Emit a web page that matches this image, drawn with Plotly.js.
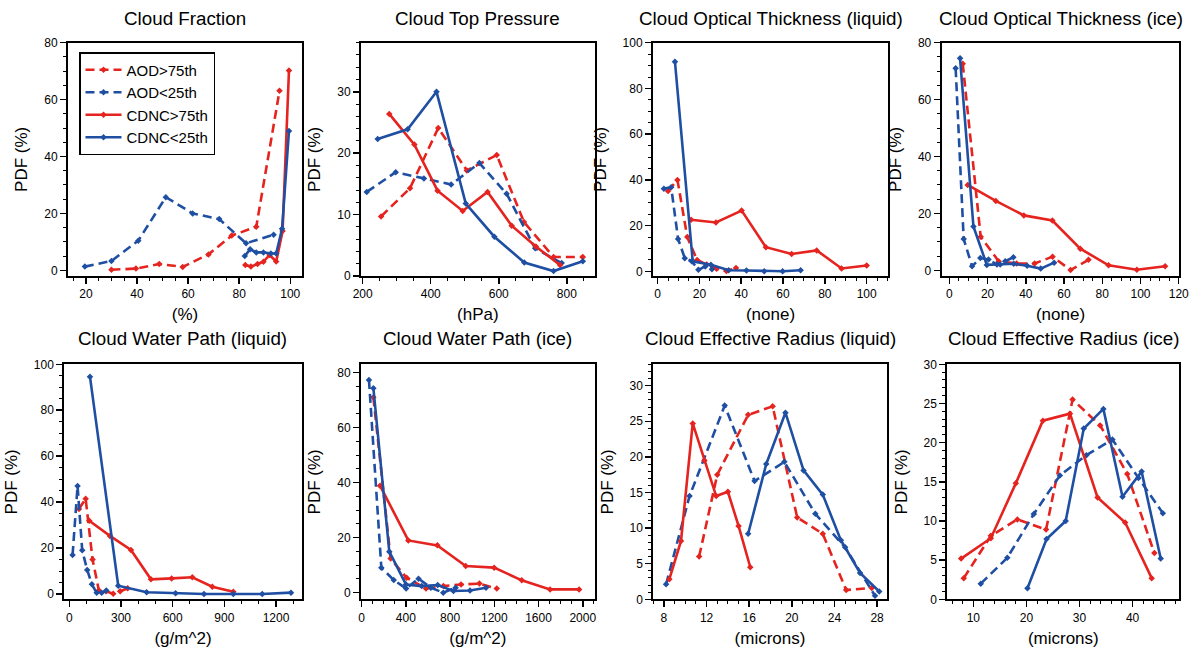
<!DOCTYPE html>
<html>
<head>
<meta charset="utf-8">
<script src="https://cdn.plot.ly/plotly-3.0.1.min.js"></script>
<style>html,body{margin:0;padding:0;background:#fff;}#chart{width:1192px;height:653px;}</style>
</head>
<body>
<div id="chart"></div>
<script>
// ---------------- DATA ----------------
const seriesNames = ['AOD>75th', 'AOD<25th', 'CDNC>75th', 'CDNC<25th'];
const panelTitles = ['Cloud Fraction', 'Cloud Top Pressure', 'Cloud Optical Thickness (liquid)', 'Cloud Optical Thickness (ice)',
                     'Cloud Water Path (liquid)', 'Cloud Water Path (ice)', 'Cloud Effective Radius (liquid)', 'Cloud Effective Radius (ice)'];
const xUnits = ['(%)', '(hPa)', '(none)', '(none)', '(g/m^2)', '(g/m^2)', '(microns)', '(microns)'];
const yLabel = 'PDF (%)';

// Cloud Fraction
const cf_aodHi_x = [30, 39.6, 48.7, 57.9, 68, 77.1, 86.7, 95.8];
const cf_aodHi_y = [0.2, 0.6, 2.2, 1.2, 5.6, 12.2, 15.3, 63.1];
const cf_aodLo_x = [19.6, 30, 40.5, 51.3, 61.8, 72.2, 82.7, 93.5];
const cf_aodLo_y = [1.3, 3.3, 10.4, 25.7, 20, 18, 9.5, 12.5];
const cf_cdncHi_x = [82.4, 84.6, 87.2, 89.5, 91.9, 94.5, 97, 99.5];
const cf_cdncHi_y = [1.9, 1.3, 2.2, 3.0, 5.4, 3.1, 13.8, 70.2];
const cf_cdncLo_x = [82.2, 84.3, 86.7, 89.5, 92.4, 94.5, 96.8, 99.5];
const cf_cdncLo_y = [5.0, 7.4, 6.3, 6.3, 5.9, 5.9, 14.6, 49];

// Cloud Top Pressure
const ctp_aodHi_x = [254, 339, 422, 506, 594, 674, 761, 847];
const ctp_aodHi_y = [9.7, 14.3, 24.1, 17.2, 19.7, 8.8, 3.1, 3.1];
const ctp_aodLo_x = [212, 297, 380, 460, 543, 623, 707, 785];
const ctp_aodLo_y = [13.7, 16.9, 15.9, 14.9, 18.4, 13.4, 4.5, 2.1];
const ctp_cdncHi_x = [278, 352, 420, 494, 567, 638, 709, 780];
const ctp_cdncHi_y = [26.4, 21.4, 13.9, 10.6, 13.7, 8.2, 4.8, 1.8];
const ctp_cdncLo_x = [244, 332, 417, 503, 587, 675, 761, 847];
const ctp_cdncLo_y = [22.3, 23.9, 30.0, 11.8, 6.4, 2.2, 0.8, 2.4];

// Cloud Optical Thickness (liquid)
const cotl_aodHi_x = [5, 9.5, 14.2, 18.9, 23.5, 28.2, 32.9, 37.5];
const cotl_aodHi_y = [35.2, 40, 15, 5, 3, 1.2, 0.2, 1.5];
const cotl_aodLo_x = [3, 6.5, 9.8, 13, 16.3, 19.5, 22.8, 26];
const cotl_aodLo_y = [36.2, 36.8, 14.2, 5.8, 4.5, 0.7, 2.2, 1.0];
const cotl_cdncHi_x = [16, 27.9, 40.2, 51.8, 64.1, 76.1, 88, 100];
const cotl_cdncHi_y = [22.6, 21.4, 26.6, 10.6, 7.6, 9.2, 1.3, 2.6];
const cotl_cdncLo_x = [8.3, 16.8, 25.5, 34, 42.5, 51, 59.8, 68.4];
const cotl_cdncLo_y = [91.7, 4.4, 2.9, 0.5, 0.4, 0.1, 0.1, 0.5];

// Cloud Optical Thickness (ice)
const coti_aodHi_x = [7, 16.4, 25.8, 35.2, 44.6, 54, 63.4, 72.8];
const coti_aodHi_y = [72.6, 11.8, 3.2, 2.4, 2.4, 4.8, 0.1, 3.7];
const coti_aodLo_x = [3.3, 7.5, 11.9, 16.2, 20.5, 24.9, 29.2, 33.5];
const coti_aodLo_y = [71, 11, 1.4, 4.3, 3.8, 2.0, 3.2, 4.6];
const coti_cdncHi_x = [9.6, 24.3, 39, 53.9, 68.5, 83.3, 98.1, 112.9];
const coti_cdncHi_y = [30, 24.4, 19.3, 17.5, 7.6, 1.75, 0.2, 1.4];
const coti_cdncLo_x = [5.6, 12.6, 19.6, 26.6, 33.7, 40.7, 47.8, 54.8];
const coti_cdncLo_y = [74.5, 15.4, 1.9, 2.0, 2.3, 1.6, 0.6, 2.7];

// Cloud Water Path (liquid)
const cwpl_aodHi_x = [56, 95, 135, 172, 213, 255, 295, 339];
const cwpl_aodHi_y = [37, 41.5, 15, 1.5, 1.2, 0.1, 1.2, 2.5];
const cwpl_aodLo_x = [19, 48, 75, 104, 131, 159, 188, 215];
const cwpl_aodLo_y = [17, 47, 19, 10.5, 4.2, 0.5, 0.5, 1.5];
const cwpl_cdncHi_x = [116, 236, 358, 474, 594, 714, 830, 952];
const cwpl_cdncHi_y = [31.9, 25.3, 19.2, 6.4, 6.8, 7.3, 3.2, 1.0];
const cwpl_cdncLo_x = [120, 284, 449, 617, 782, 952, 1120, 1287];
const cwpl_cdncLo_y = [94.6, 3.6, 0.8, 0.3, 0, 0, 0, 0.6];

// Cloud Water Path (ice)
const cwpi_aodHi_x = [106, 262, 407, 582, 739, 899, 1065, 1222];
const cwpi_aodHi_y = [71, 12.4, 5.4, 1.5, 2.4, 3.0, 3.3, 1.5];
const cwpi_aodLo_x = [66, 178, 290, 402, 514, 626, 738, 850];
const cwpi_aodLo_y = [77.3, 9.1, 4.6, 1.5, 5.1, 1.8, 0, 1.8];
const cwpi_cdncHi_x = [166, 422, 685, 941, 1198, 1448, 1704, 1967];
const cwpi_cdncHi_y = [38.9, 19, 17.2, 9.7, 9.1, 4.5, 1.2, 1.2];
const cwpi_cdncLo_x = [106, 250, 401, 543, 688, 830, 980, 1125];
const cwpi_cdncLo_y = [74.3, 14.9, 3.0, 2.4, 2.8, 0.6, 0.8, 1.8];

// Cloud Effective Radius (liquid)
const cerl_aodHi_x = [11.3, 13.0, 15.9, 18.2, 20.5, 22.9, 25.1, 27.5];
const cerl_aodHi_y = [6.0, 17.5, 25.9, 27.1, 11.5, 9.2, 1.3, 1.6];
const cerl_aodLo_x = [8.2, 10.4, 13.7, 16.5, 19.3, 22.2, 25.0, 27.8];
const cerl_aodLo_y = [2.1, 14.5, 27.2, 16.6, 19.3, 12.0, 7.3, 0.5];
const cerl_cdncHi_x = [8.5, 9.6, 10.7, 11.8, 12.9, 14, 15, 16.1];
const cerl_cdncHi_y = [2.8, 8.2, 24.7, 19.5, 14.5, 15.1, 10.3, 4.5];
const cerl_cdncLo_x = [15.9, 17.6, 19.4, 21.1, 22.9, 24.6, 26.4, 28.2];
const cerl_cdncLo_y = [9.2, 19.0, 26.2, 18.1, 14.7, 8.3, 3.7, 1.1];

// Cloud Effective Radius (ice)
const ceri_aodHi_x = [8.2, 13.3, 18.3, 23.7, 28.7, 33.9, 39, 44.1];
const ceri_aodHi_y = [2.7, 8.1, 10.2, 8.9, 25.5, 22.2, 16, 5.9];
const ceri_aodLo_x = [11.4, 16.4, 21.4, 26.3, 31.3, 36.2, 41.1, 45.7];
const ceri_aodLo_y = [2.0, 5.3, 10.9, 15.8, 18.4, 20.4, 15.5, 11];
const ceri_cdncHi_x = [7.7, 13.3, 18, 23.1, 28.2, 33.4, 38.6, 43.6];
const ceri_cdncHi_y = [5.2, 7.8, 14.8, 22.8, 23.7, 13.0, 9.8, 2.7];
const ceri_cdncLo_x = [20.2, 23.8, 27.4, 30.8, 34.5, 38.1, 41.7, 45.3];
const ceri_cdncLo_y = [1.4, 7.7, 10, 21.8, 24.3, 13.1, 16.3, 5.2];

// ---------------- BUILD ----------------
const panelData = [
  [[cf_aodHi_x, cf_aodHi_y], [cf_aodLo_x, cf_aodLo_y], [cf_cdncHi_x, cf_cdncHi_y], [cf_cdncLo_x, cf_cdncLo_y]],
  [[ctp_aodHi_x, ctp_aodHi_y], [ctp_aodLo_x, ctp_aodLo_y], [ctp_cdncHi_x, ctp_cdncHi_y], [ctp_cdncLo_x, ctp_cdncLo_y]],
  [[cotl_aodHi_x, cotl_aodHi_y], [cotl_aodLo_x, cotl_aodLo_y], [cotl_cdncHi_x, cotl_cdncHi_y], [cotl_cdncLo_x, cotl_cdncLo_y]],
  [[coti_aodHi_x, coti_aodHi_y], [coti_aodLo_x, coti_aodLo_y], [coti_cdncHi_x, coti_cdncHi_y], [coti_cdncLo_x, coti_cdncLo_y]],
  [[cwpl_aodHi_x, cwpl_aodHi_y], [cwpl_aodLo_x, cwpl_aodLo_y], [cwpl_cdncHi_x, cwpl_cdncHi_y], [cwpl_cdncLo_x, cwpl_cdncLo_y]],
  [[cwpi_aodHi_x, cwpi_aodHi_y], [cwpi_aodLo_x, cwpi_aodLo_y], [cwpi_cdncHi_x, cwpi_cdncHi_y], [cwpi_cdncLo_x, cwpi_cdncLo_y]],
  [[cerl_aodHi_x, cerl_aodHi_y], [cerl_aodLo_x, cerl_aodLo_y], [cerl_cdncHi_x, cerl_cdncHi_y], [cerl_cdncLo_x, cerl_cdncLo_y]],
  [[ceri_aodHi_x, ceri_aodHi_y], [ceri_aodLo_x, ceri_aodLo_y], [ceri_cdncHi_x, ceri_cdncHi_y], [ceri_cdncLo_x, ceri_cdncLo_y]]
];

const FONT = '"Liberation Sans", Arial, Helvetica, sans-serif';
const RED = '#e5231f', BLUE = '#1f4fa3';
const styles = [
  {color: RED, dash: '9px,5px'},
  {color: BLUE, dash: '9px,5px'},
  {color: RED, dash: 'solid'},
  {color: BLUE, dash: 'solid'}
];

const W = 1192, H = 653;
// plot areas in pixels [x0, x1, ytop, ybottom]
const boxes = [
  [68, 302, 42.7, 276], [361, 594.7, 42.7, 276], [653, 888, 42.7, 276], [941.7, 1179.3, 42.7, 276],
  [64.3, 301.7, 364.3, 599.3], [361, 594.7, 364.3, 599.3], [653.3, 886.7, 364.3, 599.3], [947.3, 1179.3, 364.3, 599.3]
];
const axisCfg = [
  {xr: [13, 104.6], xd: 20, xm: 5, yr: [-2, 80], yd: 20, ym: 5},
  {xr: [195, 882], xd: 200, xm: 50, yr: [0, 38], yd: 10, ym: 2},
  {xr: [-2.2, 110.2], xd: 20, xm: 5, yr: [-2, 100], yd: 20, ym: 5},
  {xr: [-4, 120.3], xd: 20, xm: 5, yr: [-2, 80], yd: 20, ym: 5},
  {xr: [-29, 1349], xd: 300, xm: 100, yr: [-2.3, 100], yd: 20, ym: 5},
  {xr: [-6, 2108], xd: 400, xm: 100, yr: [-2.4, 83], yd: 20, ym: 5},
  {xr: [7, 28.9], xd: 4, xm: 1, yr: [0, 33], yd: 5, ym: 1},
  {xr: [5.1, 48.8], xd: 10, xm: 2, yr: [0, 30], yd: 5, ym: 1}
];

const traces = [];
const layout = {
  width: W, height: H,
  margin: {l: 0, r: 0, t: 0, b: 0},
  paper_bgcolor: '#fff', plot_bgcolor: '#fff',
  font: {family: FONT, color: '#000'},
  showlegend: true,
  legend: {
    x: 79 / W, y: 1 - 52 / H, xanchor: 'left', yanchor: 'top',
    bordercolor: '#000', borderwidth: 1.5, bgcolor: '#fff',
    font: {family: FONT, size: 15, color: '#000'},
    itemwidth: 36, tracegroupgap: 0
  },
  annotations: []
};

panelData.forEach((series, p) => {
  const n = p + 1;
  const xa = 'x' + (n === 1 ? '' : n), ya = 'y' + (n === 1 ? '' : n);
  const b = boxes[p], c = axisCfg[p];
  series.forEach((s, k) => {
    traces.push({
      type: 'scatter', mode: 'lines+markers',
      x: s[0], y: s[1], xaxis: xa, yaxis: ya,
      name: seriesNames[k], legendgroup: seriesNames[k], showlegend: p === 0,
      line: {color: styles[k].color, width: 2.6, dash: styles[k].dash},
      marker: {symbol: 'diamond', size: 5, color: styles[k].color},
      cliponaxis: true
    });
  });
  const common = {
    showgrid: false, zeroline: false, showline: true, linecolor: '#000', linewidth: 2, mirror: true,
    ticks: 'outside', ticklen: 6, tickwidth: 1.5, tickcolor: '#000',
    tickfont: {family: FONT, size: 12, color: '#000'},
    automargin: false
  };
  layout['xaxis' + (n === 1 ? '' : n)] = Object.assign({}, common, {
    domain: [b[0] / W, b[1] / W], anchor: ya, range: c.xr, dtick: c.xd, tick0: 0,
    minor: {dtick: c.xm, tick0: 0, ticks: 'outside', ticklen: 3, tickwidth: 1, tickcolor: '#000'},
    title: {text: xUnits[p], font: {family: FONT, size: 17, color: '#000'}, standoff: 8}
  });
  layout['yaxis' + (n === 1 ? '' : n)] = Object.assign({}, common, {
    domain: [1 - b[3] / H, 1 - b[2] / H], anchor: xa, range: c.yr, dtick: c.yd, tick0: 0,
    minor: {dtick: c.ym, tick0: 0, ticks: 'outside', ticklen: 3, tickwidth: 1, tickcolor: '#000'},
    title: {text: yLabel, font: {family: FONT, size: 17, color: '#000'}, standoff: 12}
  });
  layout.annotations.push({
    xref: 'paper', yref: 'paper', x: (b[0] + b[1]) / 2 / W, y: 1 - (p < 4 ? 18 : 338) / H,
    xanchor: 'center', yanchor: 'middle', showarrow: false,
    text: panelTitles[p], font: {family: FONT, size: 18.8, color: '#000'}
  });
});

Plotly.newPlot('chart', traces, layout, {displayModeBar: false, staticPlot: true});
</script>
</body>
</html>
